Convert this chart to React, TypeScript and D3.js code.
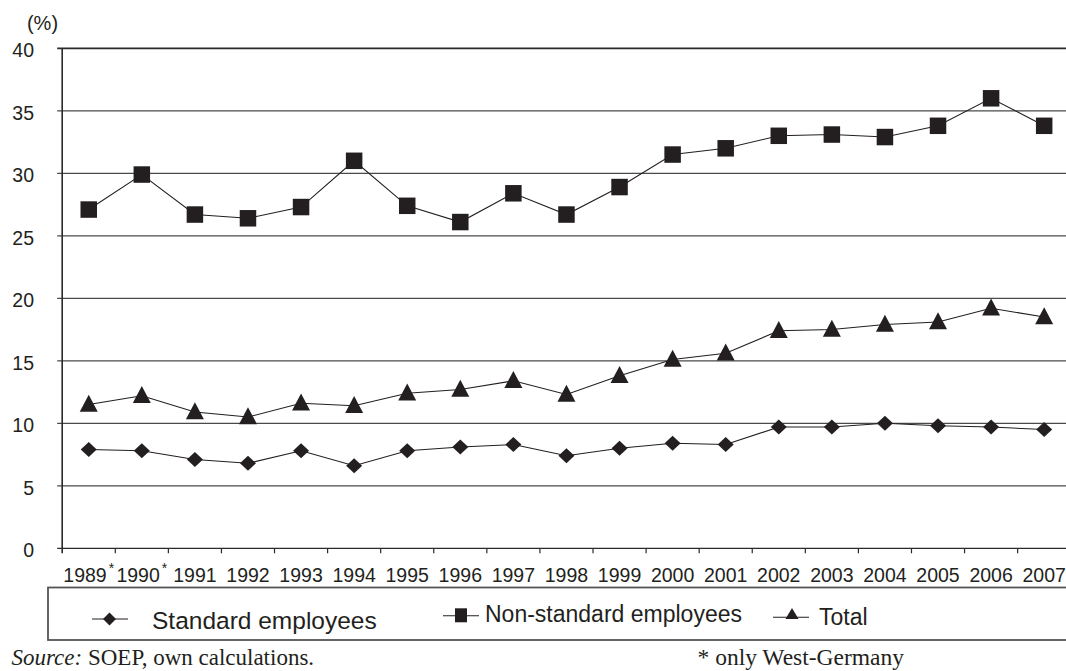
import React from "react";
import * as d3 from "d3";

const years = ["1989", "1990", "1991", "1992", "1993", "1994", "1995", "1996", "1997", "1998", "1999", "2000", "2001", "2002", "2003", "2004", "2005", "2006", "2007"];
const starred = ["1989", "1990"];
const standard = [7.9, 7.8, 7.1, 6.8, 7.8, 6.6, 7.8, 8.1, 8.3, 7.4, 8.0, 8.4, 8.3, 9.7, 9.7, 10.0, 9.8, 9.7, 9.5];
const nonStandard = [27.1, 29.9, 26.7, 26.4, 27.3, 31.0, 27.4, 26.1, 28.4, 26.7, 28.9, 31.5, 32.0, 33.0, 33.1, 32.9, 33.8, 36.0, 33.8];
const total = [11.5, 12.2, 10.9, 10.5, 11.6, 11.4, 12.4, 12.7, 13.4, 12.3, 13.8, 15.1, 15.6, 17.4, 17.5, 17.9, 18.1, 19.2, 18.5];
const yTicks = [0, 5, 10, 15, 20, 25, 30, 35, 40];

const W = 1066;
const H = 671;
const left = 62.2;
const bandW = 53.08;
const top = 48.3;
const bottom = 548.3;
const ink = "#231f20";
const sans = "'Liberation Sans', Arial, sans-serif";
const serif = "'Liberation Serif', 'Times New Roman', serif";

const x = d3.scaleBand<string>().domain(years).range([left, left + bandW * years.length]);
const y = d3.scaleLinear().domain([0, 40]).range([bottom, top]);
const cx = (i: number) => (x(years[i]) as number) + x.bandwidth() / 2;

// custom marker shapes: width w, height h
const diamond = (w: number, h: number) => ({
  draw(ctx: any) {
    ctx.moveTo(0, -h / 2);
    ctx.lineTo(w / 2, 0);
    ctx.lineTo(0, h / 2);
    ctx.lineTo(-w / 2, 0);
    ctx.closePath();
  },
});
const triangle = (w: number, h: number) => ({
  draw(ctx: any) {
    ctx.moveTo(0, -h * 0.58);
    ctx.lineTo(w / 2, h * 0.42);
    ctx.lineTo(-w / 2, h * 0.42);
    ctx.closePath();
  },
});
const rect = (w: number, h: number) => ({
  draw(ctx: any) {
    ctx.rect(-w / 2, -h / 2, w, h);
  },
});

const symDiamond = d3.symbol().type(diamond(16, 15) as any);
const symSquare = d3.symbol().type(rect(16.5, 16.5) as any);
const symTri = d3.symbol().type(triangle(18, 17) as any);

const line = d3
  .line<number>()
  .x((_, i) => cx(i))
  .y((d) => y(d));

function Series({ data, sym }: { data: number[]; sym: d3.Symbol<any, any> }) {
  return (
    <g>
      <path d={line(data) || ""} fill="none" stroke={ink} strokeWidth={1.1} />
      {data.map((v, i) => (
        <path key={i} d={sym() || ""} fill={ink} transform={`translate(${cx(i)},${y(v)})`} />
      ))}
    </g>
  );
}

type LegendProps = {
  x1: number;
  x2: number;
  ly: number;
  sym: d3.Symbol<any, any>;
  mx: number;
  my: number;
  label: string;
  tx: number;
  ty: number;
  size: number;
};

function LegendItem({ x1, x2, ly, sym, mx, my, label, tx, ty, size }: LegendProps) {
  return (
    <g>
      <line x1={x1} x2={x2} y1={ly} y2={ly} stroke={ink} strokeWidth={1.1} />
      <path d={sym() || ""} fill={ink} transform={`translate(${mx},${my})`} />
      <text x={tx} y={ty} fontSize={size} fontFamily={sans} fill={ink}>
        {label}
      </text>
    </g>
  );
}

export default function App() {
  const legDiamond = d3.symbol().type(diamond(13, 13) as any);
  const legSquare = d3.symbol().type(rect(12, 14) as any);
  const legTri = d3.symbol().type({
    draw(ctx: any) {
      ctx.moveTo(0, -6);
      ctx.lineTo(6.5, 5);
      ctx.lineTo(-6.5, 5);
      ctx.closePath();
    },
  } as any);

  return (
    <div style={{ position: "fixed", left: 0, top: 0 }}>
      <svg width={W} height={H} style={{ display: "block", background: "#fff" }}>
        {/* gridlines + y labels */}
        {yTicks.map((t) => (
          <g key={t}>
            <line
              x1={left - 5}
              x2={W}
              y1={y(t)}
              y2={y(t)}
              stroke={t === 40 || t === 0 ? "#2a2a2a" : "#4a4a4a"}
              strokeWidth={t === 40 ? 1.7 : 1.3}
            />
            <text x={34} y={y(t) + 9} textAnchor="end" fontSize={19.5} fontFamily={sans} fill={ink}>
              {t}
            </text>
          </g>
        ))}
        <text x={42.5} y={29.5} textAnchor="middle" fontSize={20} fontFamily={sans} fill={ink}>
          (%)
        </text>
        <line x1={left} x2={left} y1={top} y2={bottom + 5} stroke="#2a2a2a" strokeWidth={1.6} />
        {/* x ticks on band edges */}
        {years.map((yr) => (
          <line
            key={yr}
            x1={(x(yr) as number) + bandW}
            x2={(x(yr) as number) + bandW}
            y1={bottom}
            y2={bottom + 5}
            stroke="#2a2a2a"
            strokeWidth={1.2}
          />
        ))}
        {years.map((yr, i) => (
          <text key={yr} x={cx(i)} y={581.7} textAnchor="middle" fontSize={19.5} fontFamily={sans} fill={ink}>
            {yr}
            {starred.includes(yr) && (
              <tspan fontSize={14} dx={2} dy={-9}>
                *
              </tspan>
            )}
          </text>
        ))}

        <Series data={nonStandard} sym={symSquare} />
        <Series data={total} sym={symTri} />
        <Series data={standard} sym={symDiamond} />

        {/* legend */}
        <rect x={48} y={587.5} width={1040} height={52.5} fill="none" stroke="#555" strokeWidth={1.8} />
        <LegendItem x1={92} x2={128} ly={619} sym={legDiamond} mx={109.5} my={619} label="Standard employees" tx={152} ty={629} size={24.5} />
        <LegendItem x1={443} x2={479} ly={615.7} sym={legSquare} mx={461} my={615.3} label="Non-standard employees" tx={485} ty={621.7} size={23} />
        <LegendItem x1={773} x2={809} ly={617.3} sym={legTri} mx={792} my={614} label="Total" tx={819} ty={625} size={23} />

        <text x={11.5} y={665} fontSize={23} fontFamily={serif} fill={ink}>
          <tspan fontStyle="italic">Source:</tspan> SOEP, own calculations.
        </text>
        <text x={697.5} y={665} fontSize={23.5} fontFamily={serif} fill={ink}>
          * only West-Germany
        </text>
      </svg>
    </div>
  );
}
